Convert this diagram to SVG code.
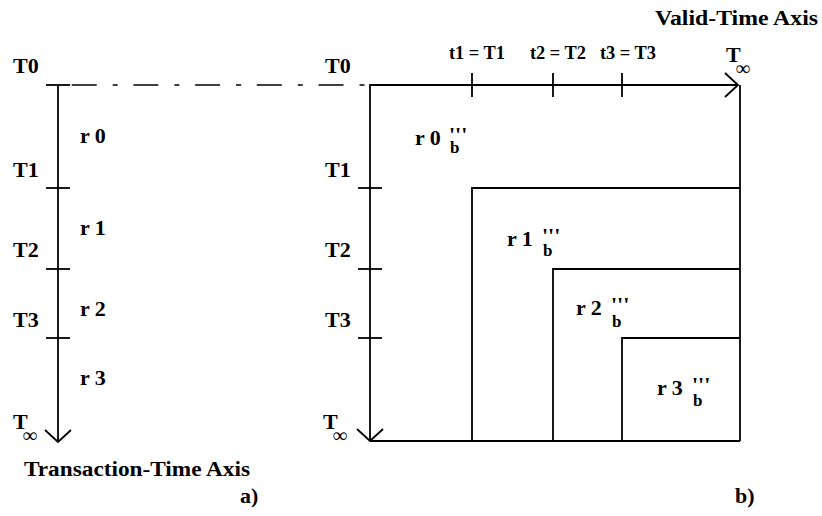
<svg xmlns="http://www.w3.org/2000/svg" width="822" height="516" viewBox="0 0 822 516">
<style>
text{font-family:"Liberation Serif","Times New Roman",serif;font-weight:bold;fill:#000}
.l{font-size:22px}
.s{font-size:17px}
.i{font-size:20px}
.m{font-size:18px}
.ln{stroke:#000;stroke-width:1.8;fill:none}
</style>
<rect width="822" height="516" fill="#fff"/>
<g id="connectors">
<line class="ln" x1="58" y1="85" x2="58" y2="442"/>
<polyline class="ln" points="45,430 58,442 71,430"/>
<line class="ln" x1="46" y1="85" x2="70" y2="85"/>
<line class="ln" x1="46" y1="188" x2="70" y2="188"/>
<line class="ln" x1="46" y1="269" x2="70" y2="269"/>
<line class="ln" x1="46" y1="338" x2="70" y2="338"/>
<line x1="70" y1="85" x2="369" y2="85" stroke="#000" stroke-width="1.6" stroke-dasharray="25 16 5 15.7" stroke-dashoffset="60"/>
<polyline class="ln" points="370,441 370,85 738,85"/>
<polyline class="ln" points="725,73 738,85 725,97"/>
<polyline class="ln" points="357,429 370,441 383,429"/>
<line class="ln" x1="370" y1="441" x2="740" y2="441"/>
<line class="ln" x1="740" y1="85" x2="740" y2="441"/>
<line class="ln" x1="358" y1="188" x2="382" y2="188"/>
<line class="ln" x1="358" y1="269" x2="382" y2="269"/>
<line class="ln" x1="358" y1="338" x2="382" y2="338"/>
<line class="ln" x1="472" y1="73" x2="472" y2="97"/>
<line class="ln" x1="553" y1="73" x2="553" y2="97"/>
<line class="ln" x1="622" y1="73" x2="622" y2="97"/>
<polyline class="ln" points="472,441 472,188 740,188"/>
<polyline class="ln" points="553,441 553,269 740,269"/>
<polyline class="ln" points="622,441 622,338 740,338"/>
</g>
<g id="left-labels">
<text class="l" x="13" y="73">T0</text>
<text class="l" x="13" y="177">T1</text>
<text class="l" x="13" y="257">T2</text>
<text class="l" x="13" y="327">T3</text>
<text class="l" x="13" y="429">T<tspan class="i" x="23" y="442">∞</tspan></text>
<text class="l" x="80" y="143">r 0</text>
<text class="l" x="80" y="235">r 1</text>
<text class="l" x="80" y="316">r 2</text>
<text class="l" x="80" y="385">r 3</text>
<text class="i" x="24" y="476" textLength="226" lengthAdjust="spacingAndGlyphs">Transaction-Time Axis</text>
<text class="l" x="240" y="503">a)</text>
</g>
<g id="right-labels">
<text class="l" x="325" y="73">T0</text>
<text class="l" x="325" y="177">T1</text>
<text class="l" x="325" y="257">T2</text>
<text class="l" x="325" y="327">T3</text>
<text class="l" x="323" y="429">T<tspan class="i" x="333" y="442">∞</tspan></text>
<text class="l" x="726" y="62">T<tspan class="i" x="736" y="75">∞</tspan></text>
<text class="m" x="449" y="59" textLength="56" lengthAdjust="spacingAndGlyphs">t1 = T1</text>
<text class="m" x="530" y="59" textLength="56" lengthAdjust="spacingAndGlyphs">t2 = T2</text>
<text class="m" x="600" y="59" textLength="56" lengthAdjust="spacingAndGlyphs">t3 = T3</text>
<text class="i" x="655" y="25" textLength="163" lengthAdjust="spacingAndGlyphs">Valid-Time Axis</text>
<text class="l" x="735" y="503">b)</text>
</g>
<g id="r0">
<text class="l" x="415" y="145">r 0<tspan x="449" y="142">'''</tspan><tspan class="s" x="450" y="153">b</tspan></text>
</g>
<g id="r1">
<text class="l" x="507" y="246">r 1<tspan x="542" y="243">'''</tspan><tspan class="s" x="543" y="256">b</tspan></text>
</g>
<g id="r2">
<text class="l" x="576" y="315">r 2<tspan x="611" y="312">'''</tspan><tspan class="s" x="612" y="327">b</tspan></text>
</g>
<g id="r3">
<text class="l" x="657" y="395">r 3<tspan x="692" y="392">'''</tspan><tspan class="s" x="693" y="406">b</tspan></text>
</g>
</svg>
